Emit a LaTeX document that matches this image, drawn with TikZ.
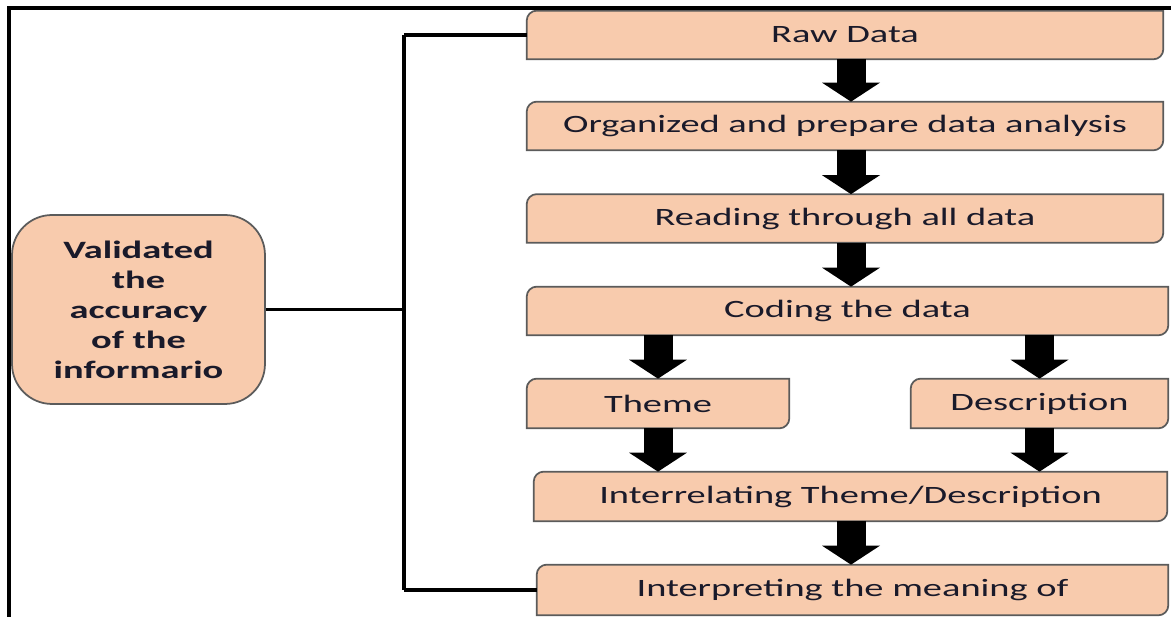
\documentclass[tikz,border=0pt]{standalone}
\usepackage{fontspec}
\setmainfont{Carlito}[FakeStretch=1.54]
\usetikzlibrary{arrows.meta,calc,positioning,backgrounds}
\definecolor{peach}{HTML}{F8CBAD}
\definecolor{edge}{HTML}{5B5B5B}
\definecolor{ink}{HTML}{1A1A2A}

\begin{document}
\begin{tikzpicture}[x=0.02cm,y=-0.02cm,
  stagebox/.style={minimum height=0.96cm,inner sep=0pt,text=ink,font=\fontsize{14.2}{17.1}\selectfont},
  boxline/.style={draw=edge,fill=peach,line width=1pt},
  link/.style={line width=2pt},
  blockarrow/.style={line width=0.58cm,-{Triangle[length=0.38cm,width=1.16cm,line width=0pt]}}]

\useasboundingbox (0,0) rectangle (1171,617);

% --- frame ---
\draw[line width=2.2pt] (1171,8) -- (9,8) -- (9,617);

% --- steps ---
\node[stagebox,minimum width=12.72cm] (raw) at (845,35) {Raw Data};
\node[stagebox,minimum width=12.72cm] (org) at (845,126) {Organized and prepare data analysis};
\node[stagebox,minimum width=12.72cm] (read) at (845,218.5) {Reading through all data};
\node[stagebox,minimum width=12.82cm] (code) at (847.5,311) {Coding the data};
\node[stagebox,minimum width=5.24cm,minimum height=0.98cm] (theme) at (658,403.5) {Theme};
\node[stagebox,minimum width=5.14cm,minimum height=0.98cm] (desc) at (1039.5,403.5) {Description};
\node[stagebox,minimum width=12.66cm,minimum height=0.98cm] (inter) at (850.5,496.5) {Interrelating Theme/Description};
\node[stagebox,minimum width=12.62cm,minimum height=1cm] (interp) at (852.5,590) {Interpreting the meaning of};

\begin{scope}[on background layer]
  \foreach \n in {raw,org,read,code,theme,desc,inter,interp}
    \draw[boxline] (\n.south west) -- ([yshift=-0.2cm]\n.north west)
      arc[start angle=180,end angle=90,radius=0.2cm] -- (\n.north east)
      -- ([yshift=0.2cm]\n.south east)
      arc[start angle=0,end angle=-90,radius=0.2cm] -- cycle;
\end{scope}

% --- arrows ---
\coordinate (spine) at (851,0);
\draw[blockarrow] (raw.south -| spine) -- (org.north -| spine);
\draw[blockarrow] (org.south -| spine) -- (read.north -| spine);
\draw[blockarrow] (read.south -| spine) -- (code.north -| spine);
\draw[blockarrow] (code.south -| theme) -- (theme);
\draw[blockarrow] (code.south -| desc) -- (desc);
\draw[blockarrow] (theme) -- (theme |- inter.north);
\draw[blockarrow] (desc) -- (desc |- inter.north);
\draw[blockarrow] (inter.south -| spine) -- (interp.north -| spine);

% --- validation ---
\node[draw=edge,fill=peach,line width=1pt,rounded corners=0.8cm,minimum width=5.06cm,minimum height=3.78cm,
  align=center,text=ink,font=\fontsize{14.2}{17.1}\selectfont\bfseries] (valid) at (138.5,309.5)
  {Validated\\the\\accuracy\\of the\\informario};

\coordinate (trunktop) at (404,35);
\coordinate (trunkbot) at (404,590);
\draw[line width=2.8pt] (trunktop) -- (trunkbot);
\draw[link] (raw.west) -- (trunktop);
\draw[link] (interp.west) -- (trunkbot);
\draw[link] (valid.east) -- (valid.east -| trunktop);

\end{tikzpicture}
\end{document}
